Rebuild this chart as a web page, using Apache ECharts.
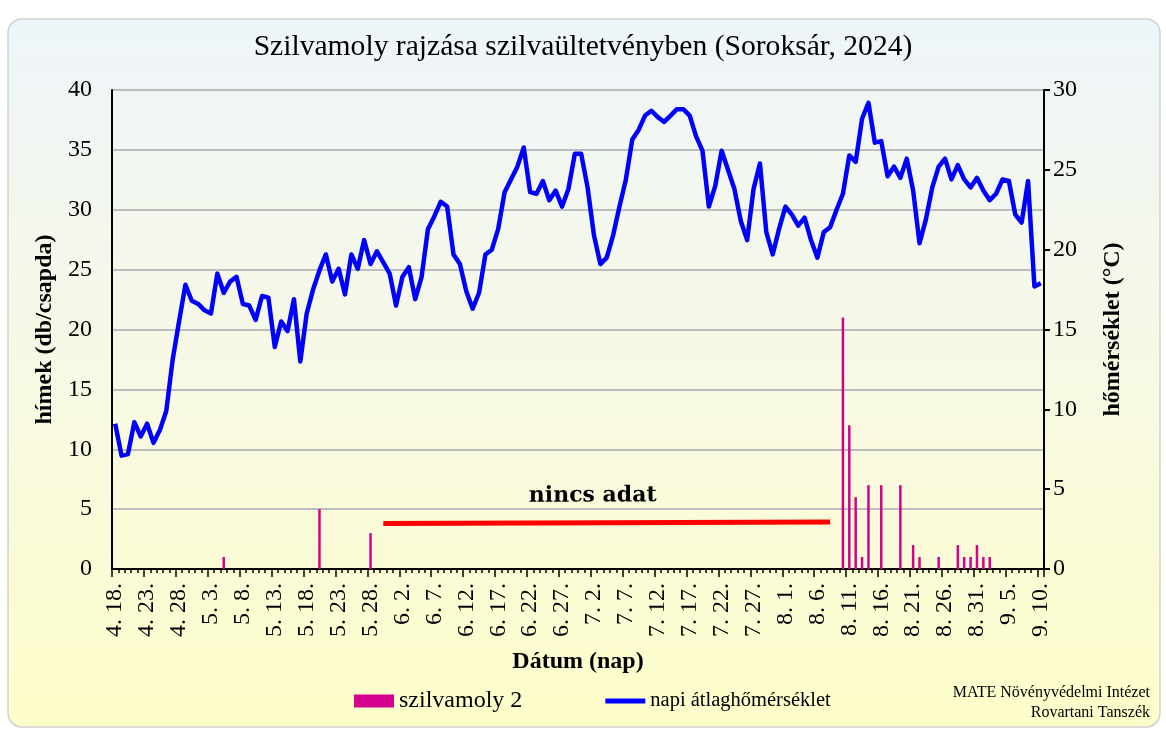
<!DOCTYPE html>
<html>
<head>
<meta charset="utf-8">
<script src="https://cdn.jsdelivr.net/npm/echarts@6/dist/echarts.min.js"></script>
<style>
html,body{margin:0;padding:0;background:#ffffff;}
#chart{width:1166px;height:729px;}
</style>
</head>
<body>
<div id="chart"></div>
<script>
// ---- data ----
var startDate = [2024, 4, 18];   // first day of the series (year, month, day)
var dayCount = 146;               // 4.18 ... 9.10

// daily mean temperature (°C)
var temperature = [
  9.1, 7.1, 7.2, 9.2, 8.3, 9.1, 7.9, 8.7, 9.9, 13.1,
  15.5, 17.8, 16.8, 16.6, 16.2, 16.0, 18.5, 17.3, 18.0, 18.3,
  16.6, 16.5, 15.6, 17.1, 17.0, 13.9, 15.5, 14.9, 16.9, 13.0,
  16.0, 17.5, 18.7, 19.7, 18.0, 18.8, 17.2, 19.7, 18.8, 20.6,
  19.1, 19.9, 19.2, 18.5, 16.5, 18.3, 18.9, 16.9, 18.3, 21.3,
  22.1, 23.0, 22.7, 19.7, 19.1, 17.4, 16.3, 17.3, 19.7, 20.0,
  21.3, 23.6, 24.4, 25.2, 26.4, 23.6, 23.5, 24.3, 23.1, 23.7,
  22.7, 23.8, 26.0, 26.0, 23.9, 20.9, 19.1, 19.5, 20.9, 22.7,
  24.4, 26.9, 27.5, 28.4, 28.7, 28.3, 28.0, 28.4, 28.8, 28.8,
  28.4, 27.1, 26.2, 22.7, 24.0, 26.2, 25.0, 23.8, 21.8, 20.6,
  23.8, 25.4, 21.1, 19.7, 21.3, 22.7, 22.2, 21.5, 22.0, 20.6,
  19.5, 21.1, 21.4, 22.5, 23.5, 25.9, 25.5, 28.2, 29.2, 26.7,
  26.8, 24.6, 25.2, 24.5, 25.7, 23.7, 20.4, 21.9, 23.9, 25.2,
  25.7, 24.4, 25.3, 24.4, 23.9, 24.5, 23.7, 23.1, 23.5, 24.4,
  24.3, 22.2, 21.7, 24.3, 17.7, 17.9
];

// moth catches (males / trap)
var catchDates  = ['5. 5.', '5. 20.', '5. 28.', '8. 10.', '8. 11.', '8. 12.', '8. 13.', '8. 14.', '8. 16.', '8. 19.',
                   '8. 21.', '8. 22.', '8. 25.', '8. 28.', '8. 29.', '8. 30.', '8. 31.', '9. 1.', '9. 2.'];
var catchCounts = [1, 5, 3, 21, 12, 6, 1, 7, 7, 7,
                   2, 1, 1, 2, 1, 1, 2, 1, 1];

// period without data
var noDataStart = '5. 30.';
var noDataEnd   = '8. 8.';
var noDataLevel = [3.8, 3.92];

var leftTicks  = [0, 5, 10, 15, 20, 25, 30, 35, 40];
var rightTicks = [0, 5, 10, 15, 20, 25, 30];

// ---- build categories ----
var categories = [];
(function () {
  var d = new Date(startDate[0], startDate[1] - 1, startDate[2]);
  for (var i = 0; i < dayCount; i++) {
    categories.push((d.getMonth() + 1) + '. ' + d.getDate() + '.');
    d.setDate(d.getDate() + 1);
  }
})();
var catchSeries = categories.map(function () { return null; });
catchDates.forEach(function (c, k) {
  var idx = categories.indexOf(c);
  if (idx >= 0) catchSeries[idx] = catchCounts[k];
});

var SERIF = "'Liberation Serif','Times New Roman',serif";

var chart = echarts.init(document.getElementById('chart'), null, {renderer: 'canvas'});
chart.setOption({
  animation: false,
  textStyle: {fontFamily: SERIF, color: '#000'},
  graphic: [
    {
      type: 'rect', z: -10, silent: true,
      shape: {x: 8, y: 19, width: 1152, height: 708, r: 14},
      style: {
        fill: new echarts.graphic.LinearGradient(0, 0, 0, 1, [
          {offset: 0, color: '#eef5fa'},
          {offset: 0.5, color: '#f7f9e4'},
          {offset: 1, color: '#fefeca'}
        ]),
        stroke: '#cfcfcf', lineWidth: 1.5
      }
    },
    {
      type: 'text', z: 10, silent: true,
      style: {x: 1150, y: 693, text: 'MATE Növényvédelmi Intézet', textAlign: 'right', textVerticalAlign: 'middle',
        font: "16px 'Liberation Serif','Times New Roman',serif", fill: '#000'}
    },
    {
      type: 'text', z: 10, silent: true,
      style: {x: 1150, y: 713, text: 'Rovartani Tanszék', textAlign: 'right', textVerticalAlign: 'middle',
        font: "16px 'Liberation Serif','Times New Roman',serif", fill: '#000'}
    }
  ],
  title: {
    text: 'Szilvamoly rajzása szilvaültetvényben (Soroksár, 2024)',
    left: 'center', top: 27,
    textStyle: {fontFamily: SERIF, fontSize: 29.6, fontWeight: 'normal', color: '#000'}
  },
  legend: {
    data: [
      {name: 'szilvamoly 2', icon: 'rect', textStyle: {fontSize: 24}},
      {name: 'napi átlaghőmérséklet', icon: 'path://M0,0 H40 V5 H0 Z', textStyle: {fontSize: 20.5}}
    ],
    left: 354, top: 689, padding: 0,
    itemWidth: 40, itemHeight: 13, itemGap: 83,
    textStyle: {fontFamily: SERIF, fontSize: 24, color: '#000'}
  },
  grid: {left: 112, right: 122, top: 90, bottom: 160, containLabel: false},
  xAxis: [
    {
      type: 'category', data: categories, boundaryGap: true,
      name: 'Dátum (nap)', nameLocation: 'middle', nameGap: 81,
      nameTextStyle: {fontFamily: SERIF, fontSize: 24, fontWeight: 'bold', color: '#000'},
      axisLine: {lineStyle: {color: '#000', width: 2}},
      axisTick: {show: true, interval: 0, length: 4, lineStyle: {color: '#000', width: 1.5}},
      axisLabel: {interval: 4, rotate: 90, margin: 14, fontFamily: SERIF, fontSize: 24, color: '#000'},
      splitLine: {show: false}
    },
    {
      type: 'category', data: categories, boundaryGap: true, position: 'bottom',
      axisLine: {show: false},
      axisTick: {show: true, interval: 4, length: 8, lineStyle: {color: '#000', width: 1.5}},
      axisLabel: {show: false},
      splitLine: {show: false}
    }
  ],
  yAxis: [
    {
      type: 'value', min: leftTicks[0], max: leftTicks[leftTicks.length - 1], interval: 5,
      position: 'left',
      name: 'hímek (db/csapda)', nameLocation: 'middle', nameGap: 51, nameRotate: 90,
      nameTextStyle: {fontFamily: SERIF, fontSize: 24, fontWeight: 'bold', color: '#000'},
      axisLine: {show: true, lineStyle: {color: '#000', width: 2}},
      axisTick: {show: false},
      axisLabel: {margin: 20, fontFamily: SERIF, fontSize: 24, color: '#000'},
      splitLine: {show: true, lineStyle: {color: '#bdbdbd', width: 2}}
    },
    {
      type: 'value', min: rightTicks[0], max: rightTicks[rightTicks.length - 1], interval: 5,
      position: 'right',
      name: 'hőmérséklet (°C)', nameLocation: 'middle', nameGap: 57, nameRotate: 90,
      nameTextStyle: {fontFamily: SERIF, fontSize: 24, fontWeight: 'bold', color: '#000'},
      axisLine: {show: true, lineStyle: {color: '#000', width: 2}},
      axisTick: {show: true, inside: false, length: 6, lineStyle: {color: '#000', width: 2}},
      axisLabel: {margin: 9, fontFamily: SERIF, fontSize: 24, color: '#000'},
      splitLine: {show: false}
    }
  ],
  series: [
    {
      name: 'szilvamoly 2', type: 'bar', xAxisIndex: 0, yAxisIndex: 0,
      data: catchSeries, barWidth: 2.5,
      itemStyle: {color: '#d4008e'},
      markLine: {
        silent: true, symbol: ['none', 'none'],
        lineStyle: {color: '#ff0000', width: 5, type: 'solid'},
        label: {
          show: true, position: 'middle', distance: 16, offset: [-14, 0], formatter: 'nincs adat',
          fontFamily: "'DejaVu Serif',serif", fontWeight: 'bold', fontSize: 22, color: '#000'
        },
        emphasis: {disabled: true},
        data: [[
          {coord: [noDataStart, noDataLevel[0]]},
          {coord: [noDataEnd, noDataLevel[1]]}
        ]]
      }
    },
    {
      name: 'napi átlaghőmérséklet', type: 'line', xAxisIndex: 0, yAxisIndex: 1,
      data: temperature, symbol: 'none', showSymbol: false, smooth: false,
      lineStyle: {color: '#0000ff', width: 4.5, join: 'round'},
      itemStyle: {color: '#0000ff'},
      z: 3
    }
  ]
});
</script>
</body>
</html>
